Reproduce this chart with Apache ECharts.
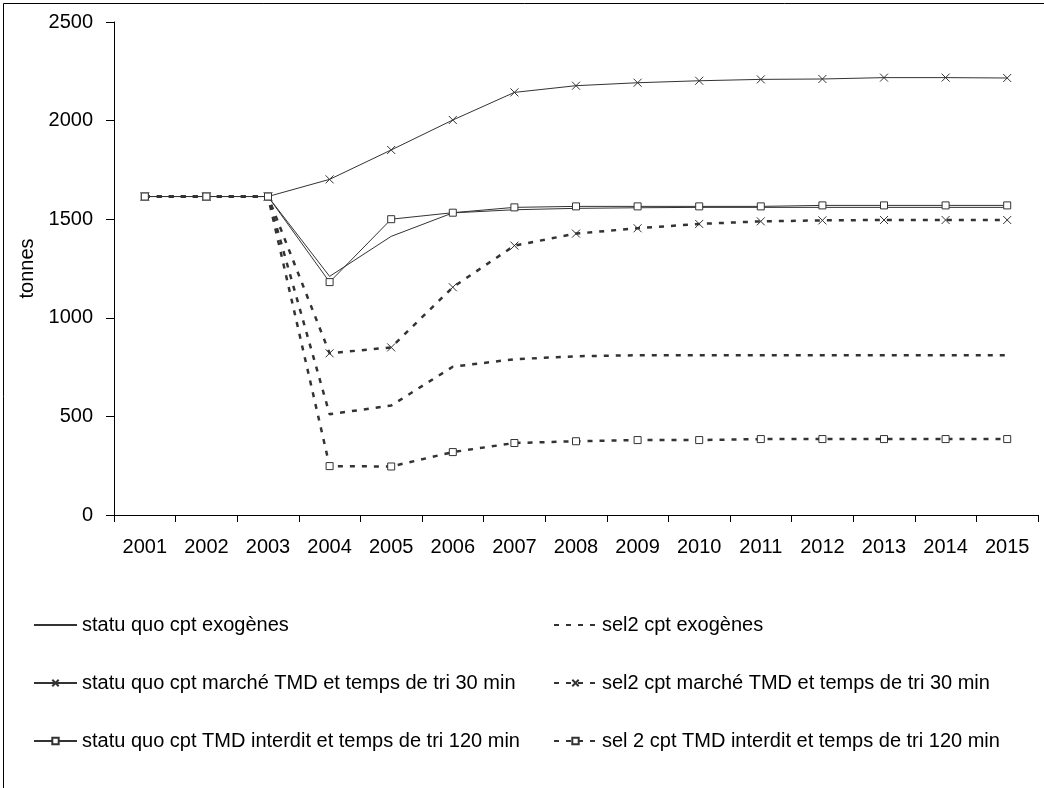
<!DOCTYPE html>
<html>
<head>
<meta charset="utf-8">
<script src="https://cdn.jsdelivr.net/npm/echarts@6/dist/echarts.min.js"></script>
<style>
  html, body { margin: 0; padding: 0; background: #fff; }
  #chart { width: 1044px; height: 788px; }
</style>
</head>
<body>
<div id="chart"></div>
<script>
// années
var years = ['2001', '2002', '2003', '2004', '2005', '2006', '2007', '2008',
  '2009', '2010', '2011', '2012', '2013', '2014', '2015']

// séries (tonnes)
var sqExo = [1615, 1615, 1615, 1210, 1413, 1532, 1548, 1555, 1558, 1560, 1560, 1560, 1560, 1560, 1560]
var sqMarche = [1615, 1615, 1615, 1702, 1851, 2003, 2143, 2177, 2192, 2202, 2209, 2211, 2218, 2218, 2216]
var sqInterdit = [1615, 1615, 1615, 1181, 1500, 1533, 1560, 1565, 1565, 1565, 1565, 1570, 1570, 1570, 1570]
var selExo = [1615, 1615, 1615, 511, 555, 752, 790, 805, 810, 810, 810, 810, 810, 810, 810]
var selMarche = [1615, 1615, 1615, 820, 850, 1155, 1366, 1427, 1454, 1476, 1489, 1494, 1496, 1496, 1496]
var selInterdit = [1615, 1615, 1615, 248, 246, 319, 365, 374, 380, 380, 385, 385, 385, 385, 385]

var names = [
  'statu quo cpt exogènes',
  'sel2 cpt exogènes',
  'statu quo cpt marché TMD et temps de tri 30 min',
  'sel2 cpt marché TMD et temps de tri 30 min',
  'statu quo cpt TMD interdit et temps de tri 120 min',
  'sel 2 cpt TMD interdit et temps de tri 120 min'
]

var FONT = '"Liberation Sans", Arial, sans-serif'
var INK = '#333'
var CROSS = 'path://M0,0L10,10M10,0L0,10'
// symbole invisible (sinon la légende met un rond)
var NOTHING = 'path://M0,0L1,1'

function line(name, data, dashed, symbol) {
  var plain = !symbol
  return {
    name: name,
    type: 'line',
    data: data,
    showAllSymbol: true,
    symbol: symbol || NOTHING,
    symbolSize: symbol === 'rect' ? 7 : 8,
    lineStyle: {
      color: INK,
      width: dashed ? 2.5 : 1,
      type: dashed ? [5, 7] : 'solid'
    },
    itemStyle: {
      color: symbol === 'rect' ? '#fff' : 'none',
      borderColor: INK,
      borderWidth: plain ? 0 : 1
    },
    emphasis: { disabled: true }
  }
}

var legendText = { fontFamily: FONT, fontSize: 20, color: '#000' }

var option = {
  animation: false,
  backgroundColor: '#fff',
  textStyle: { fontFamily: FONT },
  grid: { left: 114, right: 6, top: 22, bottom: 273 },
  legend: [
    {
      orient: 'vertical',
      left: 33,
      top: 615,
      padding: 0,
      itemWidth: 43,
      itemHeight: 8,
      itemGap: 38,
      textStyle: legendText,
      data: [names[0], names[2], names[4]]
    },
    {
      orient: 'vertical',
      left: 553,
      top: 615,
      padding: 0,
      itemWidth: 43,
      itemHeight: 8,
      itemGap: 38,
      textStyle: legendText,
      data: [names[1], names[3], names[5]]
    }
  ],
  xAxis: {
    type: 'category',
    data: years,
    boundaryGap: true,
    axisLine: { lineStyle: { color: '#000', width: 1 } },
    axisTick: { show: true, length: 7, lineStyle: { color: '#000' } },
    axisLabel: { color: '#000', fontSize: 20, fontFamily: FONT, margin: 22 },
    splitLine: { show: false }
  },
  yAxis: {
    type: 'value',
    min: 0,
    max: 2500,
    interval: 500,
    name: 'tonnes',
    nameLocation: 'middle',
    nameRotate: 90,
    nameGap: 75,
    nameTextStyle: { color: '#000', fontSize: 20, fontFamily: FONT },
    axisLine: { show: true, lineStyle: { color: '#000', width: 1 } },
    axisTick: { show: true, length: 8, lineStyle: { color: '#000' } },
    axisLabel: {
      color: '#000', fontSize: 20, fontFamily: FONT, margin: 21,
      formatter: function (v) { return String(v) }
    },
    splitLine: { show: false }
  },
  graphic: [
    {
      type: 'rect',
      silent: true,
      shape: { x: 3.5, y: 3.5, width: 1100, height: 900 },
      style: { fill: 'none', stroke: '#000', lineWidth: 1 }
    }
  ],
  series: [
    line(names[0], sqExo, false),
    line(names[1], selExo, true),
    line(names[2], sqMarche, false, CROSS),
    line(names[3], selMarche, true, CROSS),
    line(names[4], sqInterdit, false, 'rect'),
    line(names[5], selInterdit, true, 'rect')
  ]
}

var mychart = echarts.init(document.getElementById('chart'))
mychart.setOption(option)
</script>
</body>
</html>
